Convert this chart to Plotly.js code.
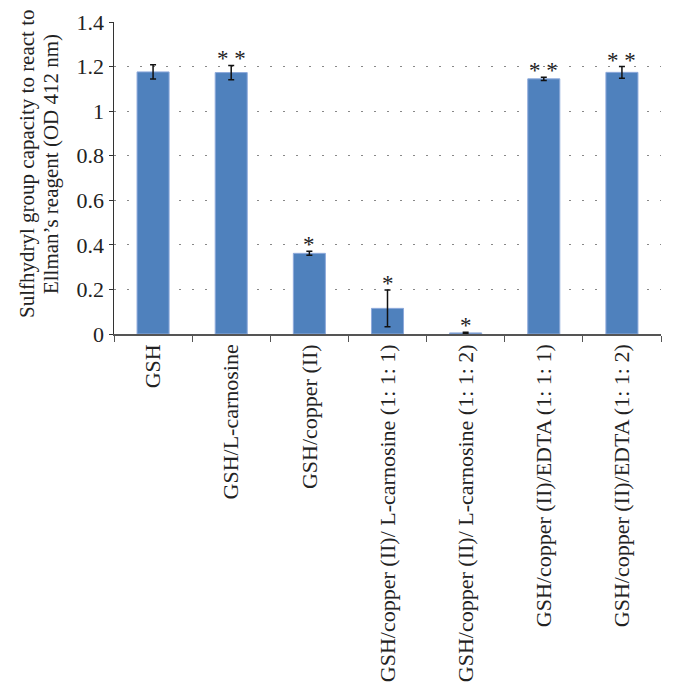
<!DOCTYPE html>
<html>
<head>
<meta charset="utf-8">
<script src="https://cdn.plot.ly/plotly-3.0.1.min.js"></script>
<style>html,body{margin:0;padding:0;background:#fff;}#chart{width:675px;height:700px;}</style>
</head>
<body>
<div id="chart"></div>
<script>
const categories = [
  "GSH",
  "GSH/L-carnosine",
  "GSH/copper (II)",
  "GSH/copper (II)/ L-carnosine (1: 1: 1)",
  "GSH/copper (II)/ L-carnosine (1: 1: 2)",
  "GSH/copper (II)/EDTA (1: 1: 1)",
  "GSH/copper (II)/EDTA (1: 1: 2)"
];
const values = [1.176, 1.173, 0.362, 0.115, 0.005, 1.145, 1.174];
const errors = [0.032, 0.032, 0.009, 0.082, 0.003, 0.007, 0.026];
const marks = ["", "* *", "*", "*", "*", "* *", "* *"];
const yTitleLines = ["Sulfhydryl group capacity to react to", "Ellman’s reagent (OD 412 nm)"];

const serif = "Liberation Serif";

const annotations = categories.map((c, i) => ({
  x: c, y: values[i] + errors[i], xref: "x", yref: "y",
  text: marks[i], showarrow: false, yanchor: "bottom", yshift: -8,
  font: {family: serif, size: 23, color: "#222"}
})).filter(a => a.text);

// y-axis title drawn as two rotated text lines
const titleX = [-0.159, -0.115];
yTitleLines.forEach((t, i) => annotations.push({
  xref: "paper", yref: "paper", x: titleX[i], y: 0.545,
  xanchor: "center", yanchor: "middle", textangle: -90,
  text: t, showarrow: false,
  font: {family: serif, size: 21, color: "#222"}
}));

const trace = {
  type: "bar",
  x: categories,
  y: values,
  marker: {color: "#4F81BD", line: {color: "#8EAADB", width: 1}},
  error_y: {type: "data", array: errors, visible: true, color: "#111", thickness: 1.5, width: 3},
  hoverinfo: "none"
};

const layout = {
  width: 675, height: 700,
  margin: {l: 114, r: 14, t: 22, b: 366},
  paper_bgcolor: "#fff", plot_bgcolor: "#fff",
  bargap: 0.59,
  showlegend: false,
  font: {family: serif, color: "#222"},
  xaxis: {
    type: "category",
    tickson: "boundaries",
    ticks: "outside", ticklen: 6, tickcolor: "#555",
    showline: true, linecolor: "#555", linewidth: 1.5,
    tickangle: -90,
    tickfont: {family: serif, size: 22, color: "#222"},
    showgrid: false
  },
  yaxis: {
    range: [0, 1.4], dtick: 0.2,
    showline: true, linecolor: "#333", linewidth: 1.5,
    ticks: "outside", ticklen: 4, tickcolor: "#333",
    tickfont: {family: serif, size: 22, color: "#222"},
    showgrid: true, gridcolor: "#888", gridwidth: 1, griddash: "2px,11px",
    zeroline: false
  },
  annotations: annotations
};

Plotly.newPlot("chart", [trace], layout, {staticPlot: true});
</script>
</body>
</html>
